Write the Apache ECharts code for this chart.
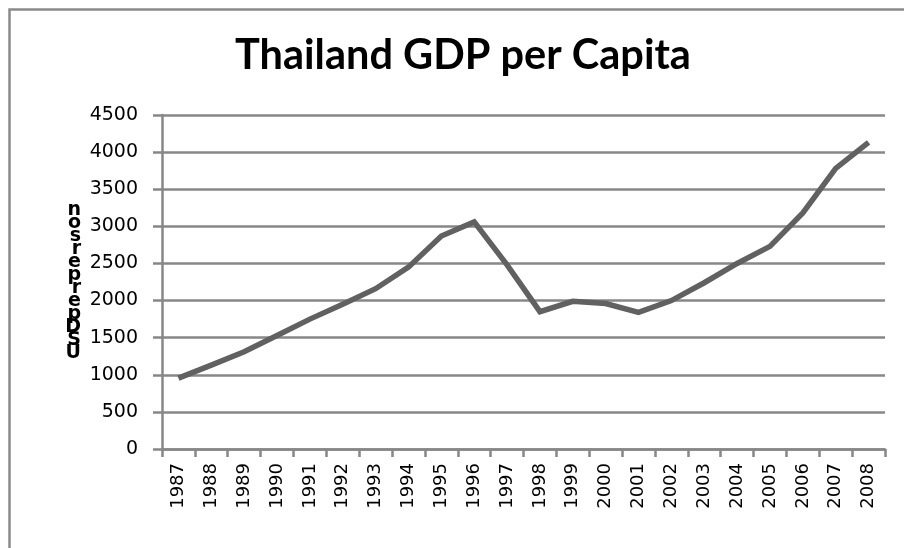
<!DOCTYPE html>
<html>
<head>
<meta charset="utf-8">
<script src="https://cdn.jsdelivr.net/npm/echarts@6/dist/echarts.min.js"></script>
<style>html,body{margin:0;padding:0;background:#fff}#c{width:904px;height:548px}</style>
</head>
<body>
<div id="c"></div>
<script>
const titleText = "Thailand GDP per Capita";
const yAxisTitle = "USD per person";
const years = ["1987","1988","1989","1990","1991","1992","1993","1994","1995","1996","1997","1998","1999","2000","2001","2002","2003","2004","2005","2006","2007","2008"];
const gdpPerCapita = [955, 1130, 1310, 1530, 1750, 1950, 2160, 2450, 2870, 3060, 2480, 1850, 1990, 1960, 1840, 2000, 2240, 2500, 2730, 3180, 3780, 4130];
const yTicks = { min: 0, max: 4500, interval: 500 };

const stackedName = yAxisTitle.replace(/\s+/g, "").split("").reverse().join("\n");
const gridColor = "#878787";

const chart = echarts.init(document.getElementById("c"), null, { renderer: "canvas" });
chart.setOption({
  animation: false,
  backgroundColor: "#ffffff",
  title: {
    text: titleText,
    left: 458, textAlign: "center",
    top: 30,
    textStyle: { fontFamily: "Lato", fontWeight: "bold", fontSize: 41.5, color: "#000" }
  },
  graphic: [{
    type: "rect", silent: true, z: -1,
    shape: { x: 9.5, y: 9.5, width: 920, height: 560 },
    style: { fill: null, stroke: "#8a8a8a", lineWidth: 2.5 }
  }],
  grid: { left: 162, right: 19, top: 115, bottom: 99, containLabel: false },
  xAxis: {
    type: "category",
    data: years,
    boundaryGap: true,
    axisLine: { lineStyle: { color: gridColor, width: 2.5 } },
    axisTick: { show: true, length: 8, lineStyle: { color: gridColor, width: 2.5 } },
    axisLabel: {
      rotate: 90, interval: 0, margin: 14,
      fontFamily: "DejaVu Sans", fontSize: 18, color: "#000"
    },
    splitLine: { show: false }
  },
  yAxis: {
    type: "value",
    min: yTicks.min, max: yTicks.max, interval: yTicks.interval,
    name: stackedName,
    nameLocation: "middle",
    nameRotate: 0,
    nameGap: 81,
    nameTextStyle: { fontFamily: "DejaVu Sans", fontWeight: "bold", fontSize: 19, lineHeight: 13, color: "#000" },
    axisLine: { show: true, lineStyle: { color: gridColor, width: 2.5 } },
    axisTick: { show: true, length: 9, lineStyle: { color: gridColor, width: 2.5 } },
    axisLabel: { margin: 24, fontFamily: "DejaVu Sans", fontSize: 19, color: "#000", formatter: function (v) { return String(v); } },
    splitLine: { show: true, lineStyle: { color: gridColor, width: 2.5 } }
  },
  series: [{
    type: "line",
    data: gdpPerCapita,
    showSymbol: false,
    symbol: "none",
    lineStyle: { color: "#616161", width: 5.5, cap: "butt", join: "miter" },
    z: 3
  }]
});
</script>
</body>
</html>
